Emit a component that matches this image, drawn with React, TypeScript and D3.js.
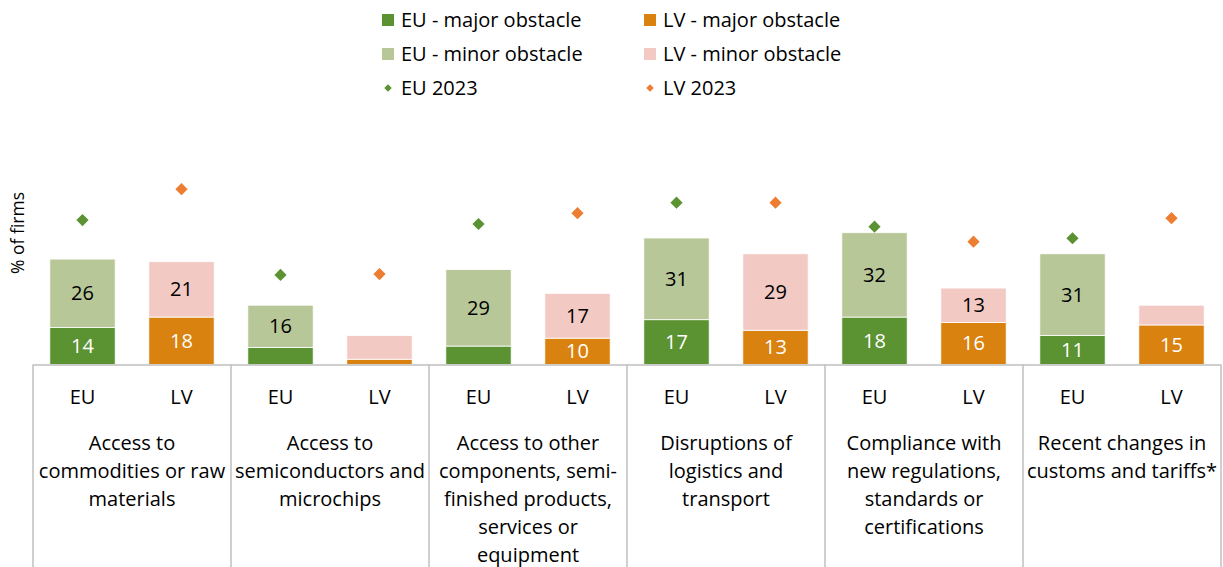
import * as d3 from "d3";
import { useEffect, useRef } from "react";

const categories = [
  "Access to commodities or raw materials",
  "Access to semiconductors and microchips",
  "Access to other components, semi-finished products, services or equipment",
  "Disruptions of logistics and transport",
  "Compliance with new regulations, standards or certifications",
  "Recent changes in customs and tariffs*",
];
const categoryLines = [
  ["Access to", "commodities or raw", "materials"],
  ["Access to", "semiconductors and", "microchips"],
  ["Access to other", "components, semi-", "finished products,", "services or", "equipment"],
  ["Disruptions of", "logistics and", "transport"],
  ["Compliance with", "new regulations,", "standards or", "certifications"],
  ["Recent changes in", "customs and tariffs*"],
];
const regions = ["EU", "LV"];

const euMajor = [14, 6.5, 7, 17, 18, 11];
const euMinor = [26, 16, 29, 31, 32, 31];
const lvMajor = [18, 2, 10, 13, 16, 15];
const lvMinor = [21, 9, 17, 29, 13, 7.5];
const eu2023 = [54.8, 34, 53.3, 61.4, 52.3, 47.9];
const lv2023 = [66.5, 34.3, 57.4, 61.4, 46.6, 55.5];

const colors = {
  euMajor: "#5b9232",
  euMinor: "#b7c797",
  lvMajor: "#d9820f",
  lvMinor: "#f2c9c3",
  eu2023: "#5b9232",
  lv2023: "#ed7d31",
};

const FONT = "'Segoe UI', 'Open Sans', sans-serif";

function App() {
  const ref = useRef<SVGSVGElement | null>(null);

  useEffect(() => {
    const svg = d3.select(ref.current).attr("width", 1223).attr("height", 567);
    svg.selectAll("*").remove();

    const x = d3.scaleBand().domain(categories).range([33, 1221]).padding(0);
    const inner = d3
      .scaleBand()
      .domain(regions)
      .range([0, x.bandwidth()])
      .paddingInner(0.34)
      .paddingOuter(0.17);
    const y = d3.scaleLinear().domain([0, 70]).range([364.5, 180]);

    const rows = categories.map((c, i) => ({
      cat: c,
      i,
      bars: [
        { key: "EU", major: euMajor[i], minor: euMinor[i], marker: eu2023[i], cMaj: colors.euMajor, cMin: colors.euMinor, cMark: colors.eu2023 },
        { key: "LV", major: lvMajor[i], minor: lvMinor[i], marker: lv2023[i], cMaj: colors.lvMajor, cMin: colors.lvMinor, cMark: colors.lv2023 },
      ],
    }));

    const g = svg
      .selectAll(".group")
      .data(rows)
      .join("g")
      .attr("class", "group")
      .attr("transform", (d) => `translate(${x(d.cat)},0)`);

    const bar = g
      .selectAll(".bar")
      .data((d) => d.bars)
      .join("g")
      .attr("class", "bar")
      .attr("transform", (d) => `translate(${inner(d.key)},0)`);

    // major segment
    bar
      .append("rect")
      .attr("y", (d) => y(d.major))
      .attr("width", inner.bandwidth())
      .attr("height", (d) => y(0) - y(d.major))
      .attr("fill", (d) => d.cMaj)
      .attr("stroke", "#fff")
      .attr("stroke-width", 0.8);

    // minor segment
    bar
      .append("rect")
      .attr("y", (d) => y(d.major + d.minor))
      .attr("width", inner.bandwidth())
      .attr("height", (d) => y(d.major) - y(d.major + d.minor))
      .attr("fill", (d) => d.cMin)
      .attr("stroke", "#fff")
      .attr("stroke-width", 0.8);

    // value labels
    bar
      .filter((d) => d.major >= 10)
      .append("text")
      .attr("x", inner.bandwidth() / 2)
      .attr("y", (d) => y(d.major / 2))
      .attr("dy", "0.35em")
      .attr("text-anchor", "middle")
      .attr("fill", "#fff")
      .style("font-family", FONT)
      .style("font-size", "20px")
      .text((d) => Math.round(d.major));

    bar
      .filter((d) => d.minor >= 10)
      .append("text")
      .attr("x", inner.bandwidth() / 2)
      .attr("y", (d) => y(d.major + d.minor / 2))
      .attr("dy", "0.35em")
      .attr("text-anchor", "middle")
      .attr("fill", "#000")
      .style("font-family", FONT)
      .style("font-size", "20px")
      .text((d) => Math.round(d.minor));

    // 2023 markers
    bar
      .append("path")
      .attr("d", d3.symbol(d3.symbolDiamond2, 95)())
      .attr("transform", (d) => `translate(${inner.bandwidth() / 2},${y(d.marker)})`)
      .attr("fill", (d) => d.cMark);

    // axis lines
    const axisColor = "#bfbfbf";
    svg
      .append("line")
      .attr("x1", 33)
      .attr("x2", 1221)
      .attr("y1", y(0) + 0.5)
      .attr("y2", y(0) + 0.5)
      .attr("stroke", axisColor)
      .attr("stroke-width", 1.5);
    svg
      .selectAll(".sep")
      .data([...categories.map((c) => x(c) as number), 1221])
      .join("line")
      .attr("class", "sep")
      .attr("x1", (d) => d)
      .attr("x2", (d) => d)
      .attr("y1", y(0))
      .attr("y2", 567)
      .attr("stroke", axisColor)
      .attr("stroke-width", 1.5);

    // EU / LV labels
    g.selectAll(".reg")
      .data(regions)
      .join("text")
      .attr("class", "reg")
      .attr("x", (d) => (inner(d) as number) + inner.bandwidth() / 2)
      .attr("y", 397)
      .attr("dy", "0.35em")
      .attr("text-anchor", "middle")
      .style("font-family", FONT)
      .style("font-size", "20px")
      .text((d) => d);

    // category labels
    g.append("text")
      .attr("text-anchor", "middle")
      .style("font-family", FONT)
      .style("font-size", "20px")
      .selectAll("tspan")
      .data((d) => categoryLines[d.i])
      .join("tspan")
      .attr("x", x.bandwidth() / 2)
      .attr("y", (_, j) => 443 + j * 28)
      .attr("dy", "0.35em")
      .text((d) => d);

    // y label
    svg
      .append("text")
      .attr("transform", "translate(18,233) rotate(-90)")
      .attr("text-anchor", "middle")
      .attr("dy", "0.35em")
      .style("font-family", FONT)
      .style("font-size", "17.5px")
      .text("% of firms");

    // legend
    const legendItems = [
      { label: "EU - major obstacle", color: colors.euMajor, type: "rect", col: 0, row: 0 },
      { label: "LV - major obstacle", color: colors.lvMajor, type: "rect", col: 1, row: 0 },
      { label: "EU - minor obstacle", color: colors.euMinor, type: "rect", col: 0, row: 1 },
      { label: "LV - minor obstacle", color: colors.lvMinor, type: "rect", col: 1, row: 1 },
      { label: "EU 2023", color: colors.eu2023, type: "diamond", col: 0, row: 2 },
      { label: "LV 2023", color: colors.lv2023, type: "diamond", col: 1, row: 2 },
    ];
    const leg = svg
      .selectAll(".leg")
      .data(legendItems)
      .join("g")
      .attr("class", "leg")
      .attr("transform", (d) => `translate(${382 + d.col * 262},${20 + d.row * 34})`);
    leg
      .filter((d) => d.type === "rect")
      .append("rect")
      .attr("y", -6)
      .attr("width", 12)
      .attr("height", 12)
      .attr("fill", (d) => d.color);
    leg
      .filter((d) => d.type === "diamond")
      .append("path")
      .attr("d", d3.symbol(d3.symbolDiamond2, 36)())
      .attr("transform", "translate(6,0)")
      .attr("fill", (d) => d.color);
    leg
      .append("text")
      .attr("x", 19)
      .attr("dy", "0.35em")
      .style("font-family", FONT)
      .style("font-size", "20px")
      .text((d) => d.label);
  }, []);

  return <svg ref={ref} style={{ position: "absolute", left: 0, top: 0 }}></svg>;
}

export default App;
